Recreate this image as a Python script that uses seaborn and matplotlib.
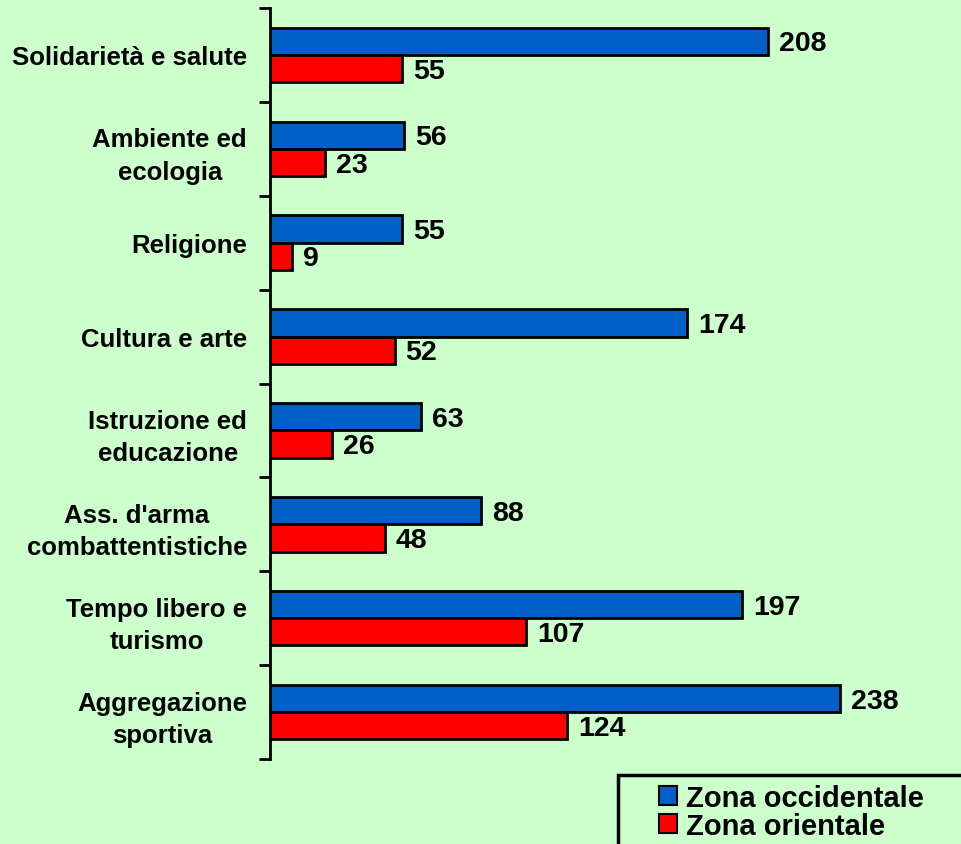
import matplotlib
matplotlib.use("Agg")
import matplotlib.pyplot as plt
import seaborn as sns
import pandas as pd
from matplotlib.patches import Patch, Rectangle

categories = ["Solidarietà e salute", "Ambiente ed\necologia", "Religione", "Cultura e arte",
              "Istruzione ed\neducazione", "Ass. d'arma\ncombattentistiche",
              "Tempo libero e\nturismo", "Aggregazione\nsportiva"]
occidentale = [208, 56, 55, 174, 63, 88, 197, 238]
orientale = [55, 23, 9, 52, 26, 48, 107, 124]
zones = ["Zona occidentale", "Zona orientale"]
colors = ["#0060c8", "#ff0000"]

df = pd.DataFrame({
    "cat": categories * 2,
    "value": occidentale + orientale,
    "zone": [zones[0]] * len(categories) + [zones[1]] * len(categories),
})

sns.set_theme(style="white")
plt.rcParams['font.family'] = ['Liberation Sans', 'DejaVu Sans']
plt.rcParams['font.weight'] = 'bold'
plt.rcParams['text.color'] = 'black'
plt.rcParams['ytick.color'] = 'black'
plt.rcParams['ytick.labelcolor'] = 'black'

bg = "#ccffcc"
fig = plt.figure(figsize=(9.62, 8.45), dpi=100, facecolor=bg)
ax = fig.add_axes([270/962, 1-760/845, 1-270/962, (760-9)/845])
ax.set_facecolor(bg)

sns.barplot(data=df, y="cat", x="value", hue="zone", orient="h", palette=colors,
            width=0.58, edgecolor="black", linewidth=2, ax=ax, legend=False,
            saturation=1)

ax.set_xlim(0, 692/2.395)
ax.set_ylim(len(categories)-0.5, -0.5)
ax.set_xlabel("")
ax.set_ylabel("")
ax.xaxis.set_visible(False)
for s in ["top", "right", "bottom"]:
    ax.spines[s].set_visible(False)
ax.spines["left"].set_color("black")
ax.spines["left"].set_linewidth(2)

ax.set_yticks(range(len(categories)))
ax.set_yticklabels(categories, fontsize=18.5, fontweight="bold", color="black")
for t in ax.get_yticklabels():
    t.set_multialignment("center")
    t.set_linespacing(1.45)
ax.set_yticks([i - 0.5 for i in range(len(categories)+1)], minor=True)
ax.tick_params(axis="y", which="major", length=0, pad=16.5)
ax.tick_params(axis="y", which="minor", length=8, width=2, color="black", direction="out", left=True)

for cont in ax.containers:
    labels = ax.bar_label(cont, padding=8, fontsize=20.5, fontweight="bold", color="black")
    for t in labels:
        t.xyann = (8, -1.5)

# legend box
fig.patches.append(Rectangle((618/962, 0 - 0.02), 0.5, (845-776)/845 + 0.02,
                             transform=fig.transFigure, facecolor="none",
                             edgecolor="black", linewidth=2.5, zorder=5))
handles = [Patch(facecolor=c, edgecolor="black", linewidth=1.5) for c in colors]
leg = fig.legend(handles, zones, loc="upper left", bbox_to_anchor=(659/962, 1-785/845),
                 frameon=False, prop={"size": 21, "weight": "bold"}, handlelength=0.62,
                 handleheight=0.62, handletextpad=0.3, labelspacing=0.0, borderpad=0,
                 borderaxespad=0)
for t in leg.get_texts():
    t.set_color("black")

fig.savefig("out.png", dpi=100, facecolor=bg)
